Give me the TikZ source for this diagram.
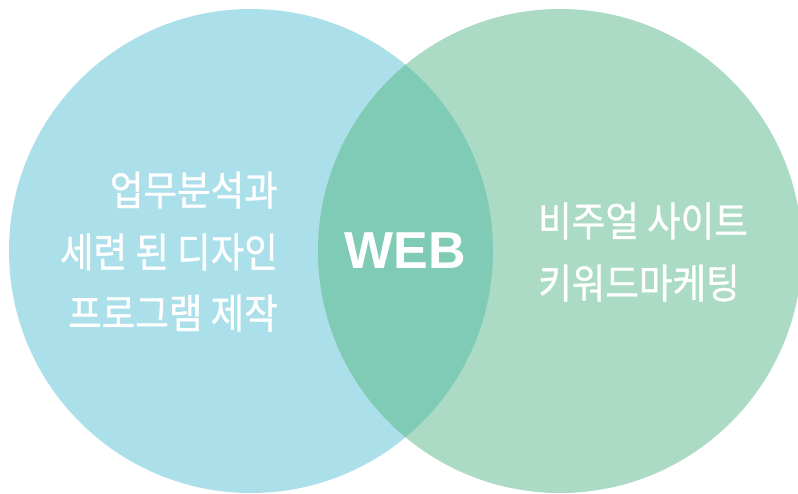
\documentclass[tikz,border=0pt]{standalone}
\usepackage{fontspec}
\newfontfamily\kofont[FakeBold=0.8]{Noto Sans CJK KR}
\newfontfamily\webfont{Liberation Sans}
\definecolor{leftc}{HTML}{ABDFEA}
\definecolor{rightc}{HTML}{ABDBC5}
\definecolor{midc}{HTML}{80CBB6}
\newcommand{\kotxt}[1]{\scalebox{1}[1.12]{#1}}
\tikzset{
  kotext/.style={text=white,font=\kofont\fontsize{36.5}{36.5}\selectfont,inner sep=0pt},
  circ/.style={circle,minimum size=484pt,inner sep=0pt,draw=none}
}
\begin{document}
\begin{tikzpicture}[x=1pt,y=-1pt]
\useasboundingbox (0,0) rectangle (798,493);
\fill[white] (0,0) rectangle (798,493);
\node[circ,fill=leftc] (L) at (251,251) {};
\node[circ,fill=rightc] (R) at (560,251) {};
\begin{scope}
  \clip (251,251) circle (242);
  \fill[midc] (560,251) circle (242);
\end{scope}
\node[kotext,anchor=east] (l1) at (278,190) {\kotxt{업무분석과}};
\node[kotext,anchor=east] (l2) at (278,252) {\kotxt{세련 된 디자인}};
\node[kotext,anchor=east] (l3) at (278,313) {\kotxt{프로그램 제작}};
\node[kotext,anchor=west] (r1) at (538,221) {\kotxt{비주얼 사이트}};
\node[kotext,anchor=west] (r2) at (538,283) {\kotxt{키워드마케팅}};
\node[text=white,font=\webfont\bfseries\fontsize{52}{52}\selectfont,inner sep=0pt] (web) at (405,251) {WEB};
\end{tikzpicture}
\end{document}
